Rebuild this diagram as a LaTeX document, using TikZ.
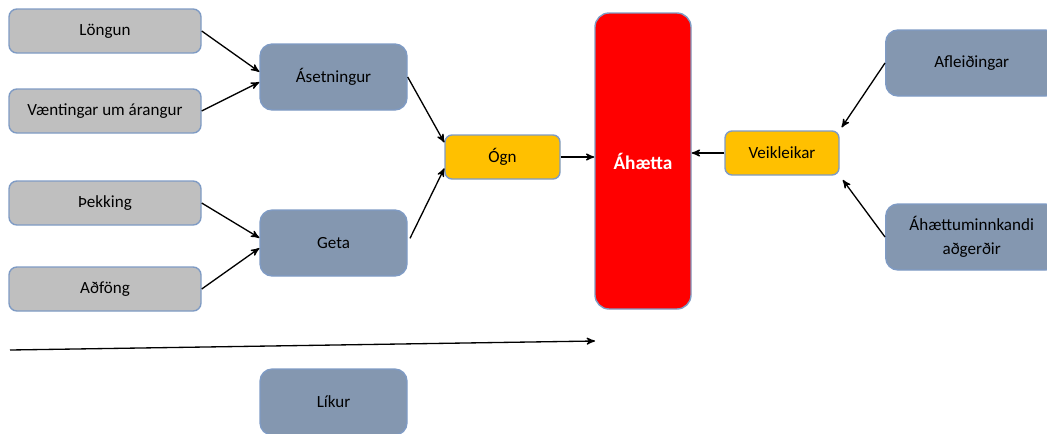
\documentclass[tikz,border=0pt]{standalone}
\usepackage{fontspec}
\setmainfont{Carlito}
\usetikzlibrary{arrows, positioning, calc}
\definecolor{grabox}{HTML}{BFBFBF}
\definecolor{blabox}{HTML}{8497B0}
\definecolor{gulbox}{HTML}{FFC000}
\definecolor{kantur}{HTML}{7F9BC4}
\tikzset{
    %Define standard arrow tip
    >=stealth',
    % Define style for grey boxes
    grakassi/.style={
           rectangle,
           rounded corners=4.5pt,
           draw=kantur, line width=0.8pt,
           fill=grabox,
           minimum width=192*0.02cm,
           minimum height=44*0.02cm,
           font=\fontsize{9.7}{11}\selectfont,
           align=center},
    % Define style for blue boxes
    blakassi/.style={
           rectangle,
           rounded corners=7pt,
           draw=kantur, line width=0.8pt,
           fill=blabox,
           minimum width=147*0.02cm,
           minimum height=66*0.02cm,
           font=\fontsize{9.7}{14}\selectfont,
           align=center},
    % Define style for yellow boxes
    gulkassi/.style={
           rectangle,
           rounded corners=4pt,
           draw=kantur, line width=0.8pt,
           fill=gulbox,
           minimum width=115*0.02cm,
           minimum height=44*0.02cm,
           font=\fontsize{9.7}{11}\selectfont},
    % Define arrow style
    pil/.style={
           ->,
           line width=0.75pt}
}
\begin{document}
\begin{tikzpicture}[x=0.02cm, y=-0.02cm]
	\clip (0,0) rectangle (1047,433);
	\useasboundingbox (0,0) rectangle (1047,433);
	%
	% noeuds
	%
	\node[grakassi] (longun) at (105,31) {Löngun};
	\node[grakassi] (vaent) at (105,111) {Væntingar um árangur};
	\node[grakassi] (thekk) at (105,203) {Þekking};
	\node[grakassi] (adfong) at (105,289) {Aðföng};
	\node[blakassi] (aset) at (333.5,77) {Ásetningur};
	\node[blakassi] (geta) at (333.5,243) {Geta};
	\node[gulkassi] (ogn) at (502.5,157) {Ógn};
	\node[rectangle, rounded corners=8pt, draw=kantur, line width=0.8pt,
	      fill=red, minimum width=96*0.02cm, minimum height=296*0.02cm,
	      text=white, font=\fontsize{11}{13}\selectfont\bfseries]
	      (ahaetta) at (643,161) {Áhætta};
	\node[gulkassi, minimum width=114*0.02cm] (veik) at (782,153) {Veikleikar};
	\node[blakassi, minimum width=172*0.02cm, anchor=west] (afleid) at (885,63) {Afleiðingar};
	\node[blakassi, minimum width=172*0.02cm, anchor=west] (ahmin) at (885,237) {Áhættuminnkandi\\aðgerðir};
	\node[blakassi] (likur) at (333.5,402) {Líkur};
	\coordinate (upphaf) at (10,350);
	\coordinate (endir) at (595,341);
	%
	% Liens
	%
	\draw[pil] (longun.east) -- (aset.176);
	\draw[pil] (vaent.east) -- (aset.184);
	\draw[pil] (thekk.east) -- (geta.176);
	\draw[pil] (adfong.east) -- (geta.184);
	\draw[pil] (aset.east) -- (ogn.166);
	\draw[pil, shorten <=3pt] (geta.east) -- (ogn.191);
	\draw[pil] (ogn.east) -- (ogn.east -| ahaetta.west);
	\draw[pil] (veik.west) -- (veik.west -| ahaetta.east);
	\draw[pil, shorten >=2pt] (afleid.west) -- (veik.north east);
	\draw[pil, shorten >=3pt] (ahmin.west) -- (veik.south east);
	\draw[pil] (upphaf) -- (endir);
\end{tikzpicture}
\end{document}
